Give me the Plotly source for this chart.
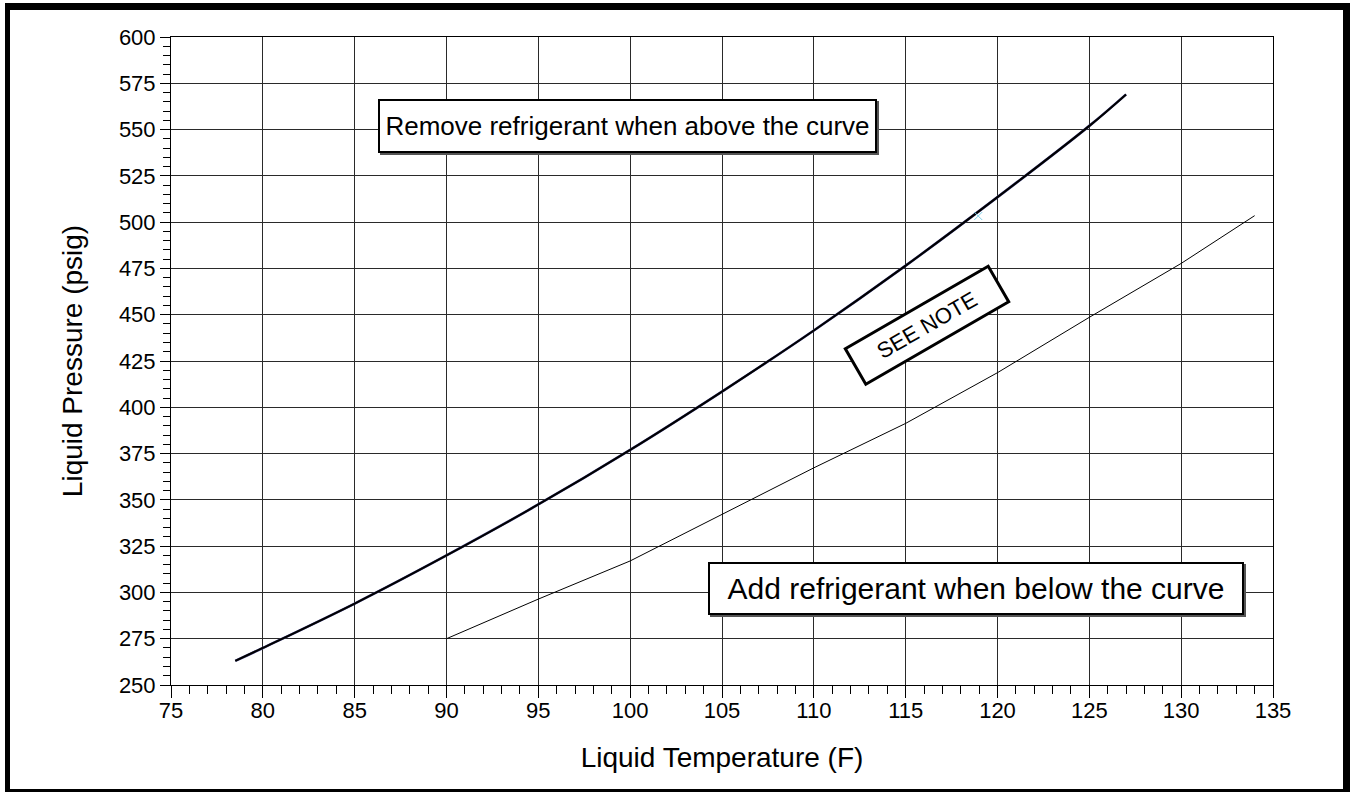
import plotly.graph_objects as go

# ---- data ----
upper_temp = [78.5, 80, 85, 90, 95, 100, 105, 110, 115, 120, 125, 127]
upper_press = [263, 270, 294, 320, 347.5, 377, 408.5, 441.5, 476.5, 513.5, 552, 569]

lower_temp = [90, 95, 100, 105, 110, 115, 120, 125, 130, 134]
lower_press = [275, 296.4, 317, 342.3, 367.3, 391.3, 418.7, 448.6, 477.7, 503.5]

marker_temp = [118.95]
marker_press = [503.3]

x_ticks = [75, 80, 85, 90, 95, 100, 105, 110, 115, 120, 125, 130, 135]
y_ticks = [250, 275, 300, 325, 350, 375, 400, 425, 450, 475, 500, 525, 550, 575, 600]

FONT = "Arial, Liberation Sans, Helvetica, sans-serif"

W, H = 1350, 792
ML, MR, MT, MB = 171, 77, 37, 107
PW, PH = W - ML - MR, H - MT - MB


def xp(px):
    return (px - ML) / PW


def yp(py):
    return (H - MB - py) / PH


fig = go.Figure()

fig.add_trace(go.Scatter(x=lower_temp, y=lower_press, mode="lines",
                         line=dict(color="black", width=1), showlegend=False,
                         hoverinfo="x+y"))
fig.add_trace(go.Scatter(x=upper_temp, y=upper_press, mode="lines",
                         line=dict(color="#4a4a8a", width=2.6, shape="spline",
                                   smoothing=1.0),
                         showlegend=False, hoverinfo="skip"))
fig.add_trace(go.Scatter(x=upper_temp, y=upper_press, mode="lines",
                         line=dict(color="black", width=2, shape="spline",
                                   smoothing=1.0),
                         showlegend=False, hoverinfo="x+y"))
fig.add_trace(go.Scatter(x=marker_temp, y=marker_press, mode="markers",
                         marker=dict(symbol="x-thin", size=8, color="#7fd0ea",
                                     line=dict(color="#7fd0ea", width=1)),
                         showlegend=False))

axis_common = dict(
    showgrid=True, gridcolor="#2a2a2a", gridwidth=1,
    showline=True, linecolor="black", linewidth=1, mirror=True,
    ticks="outside", tickcolor="black", tickwidth=1,
    tickfont=dict(family=FONT, size=22, color="black"),
    zeroline=False,
)

fig.update_xaxes(
    **axis_common,
    range=[75, 135], tickvals=x_ticks, ticklen=12, ticklabelstandoff=-6,
    minor=dict(dtick=1, tick0=75, ticks="outside", ticklen=8,
               tickcolor="black", tickwidth=1, showgrid=False),
    title=dict(text="Liquid Temperature (F)",
               font=dict(family=FONT, size=28, color="black"), standoff=24),
)
fig.update_yaxes(
    **axis_common,
    range=[250, 600], tickvals=y_ticks, ticklen=10,
    minor=dict(dtick=5, tick0=250, ticks="outside", ticklen=7,
               tickcolor="black", tickwidth=1, showgrid=False),
    title=dict(text="Liquid Pressure (psig)",
               font=dict(family=FONT, size=28, color="black"), standoff=28),
)

annotations = [
    dict(x=99.88, y=551.9, xref="x", yref="y", text="",
         showarrow=False, width=495, height=50, borderpad=0,
         bordercolor="#555555", borderwidth=2, bgcolor="white",
         xshift=2, yshift=-2),
    dict(x=99.88, y=551.9, xref="x", yref="y",
         text="Remove refrigerant when above the curve",
         showarrow=False, width=495, height=50, borderpad=0,
         bordercolor="black", borderwidth=2, bgcolor="white",
         font=dict(family=FONT, size=26, color="black")),
    dict(x=118.82, y=302.1, xref="x", yref="y", text="",
         showarrow=False, width=532, height=49, borderpad=0,
         bordercolor="#555555", borderwidth=2, bgcolor="white",
         xshift=2, yshift=-2),
    dict(x=118.82, y=302.1, xref="x", yref="y",
         text="Add refrigerant when below the curve",
         showarrow=False, width=532, height=49, borderpad=0,
         bordercolor="black", borderwidth=2, bgcolor="white",
         font=dict(family=FONT, size=30, color="black")),
    dict(x=116.18, y=444.4, xref="x", yref="y",
         text="SEE NOTE", textangle=-30,
         showarrow=False, width=162, height=38, borderpad=0,
         bordercolor="black", borderwidth=3, bgcolor="white",
         font=dict(family=FONT, size=22, color="black")),
]

shapes = [
    dict(type="rect", xref="paper", yref="paper", x0=xp(5), x1=xp(1350),
         y0=yp(10), y1=yp(3), fillcolor="black", line=dict(width=0)),
    dict(type="rect", xref="paper", yref="paper", x0=xp(5), x1=xp(10),
         y0=yp(792), y1=yp(3), fillcolor="black", line=dict(width=0)),
    dict(type="rect", xref="paper", yref="paper", x0=xp(1343), x1=xp(1350),
         y0=yp(792), y1=yp(3), fillcolor="black", line=dict(width=0)),
    dict(type="rect", xref="paper", yref="paper", x0=xp(5), x1=xp(1350),
         y0=yp(792), y1=yp(789), fillcolor="black", line=dict(width=0)),
]

fig.update_layout(
    width=W, height=H,
    margin=dict(l=ML, r=MR, t=MT, b=MB, autoexpand=False),
    paper_bgcolor="white", plot_bgcolor="white",
    font=dict(family=FONT, color="black"),
    annotations=annotations, shapes=shapes,
    showlegend=False,
)

fig.write_html(
    "out.html",
    config={"displayModeBar": False},
    post_script="document.body.style.margin='0';document.body.style.overflow='hidden';",
)
